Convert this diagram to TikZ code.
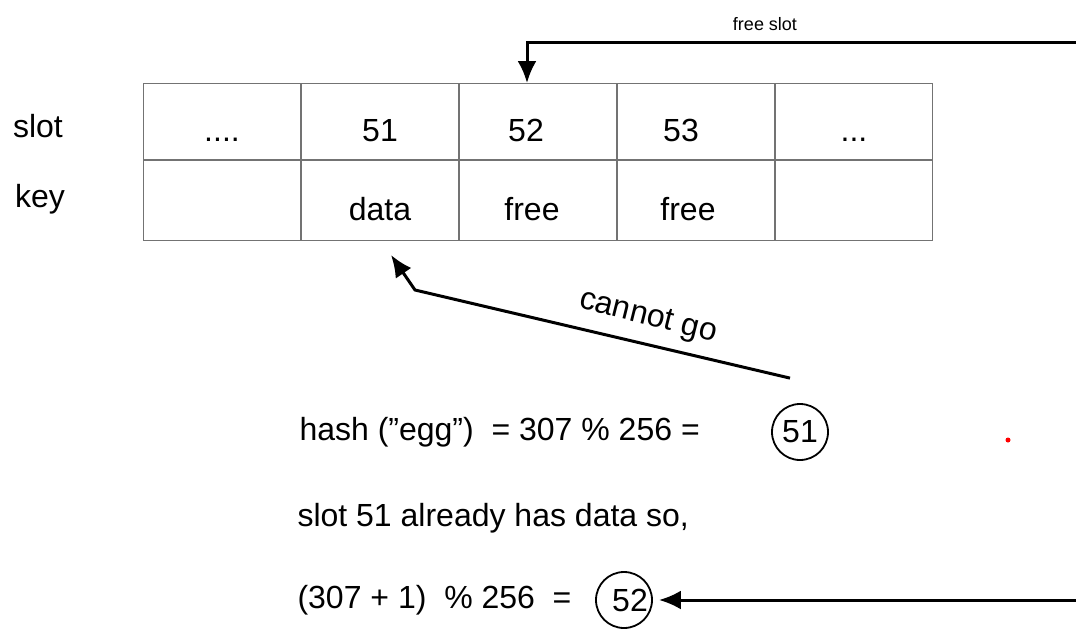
\documentclass[tikz,border=0pt]{standalone}
\usepackage{fontspec}
\setmainfont{Liberation Sans}
\usetikzlibrary{positioning, arrows.meta}

\begin{document}
\begin{tikzpicture}[x=1pt, y=-1pt, font=\fontsize{32}{37}\selectfont]
    \tikzstyle{cell}=[rectangle, draw=black!55, line width=1.2pt, minimum width=156.8pt, inner sep=0pt, text height=40pt, text depth=0pt]
    \tikzstyle{slotcell}=[cell, minimum height=75.8pt]
    \tikzstyle{keycell}=[cell, minimum height=79.8pt]
    \tikzstyle{link}=[line width=3pt, -{Latex[length=22pt, width=19pt]}]
    \tikzstyle{ring}=[circle, draw, line width=1.8pt, inner sep=0pt, minimum size=56pt]
    \useasboundingbox (0,0) rectangle (1076,630);
    % table
    \node [slotcell, anchor=north west] (s1) at (143,83) {....};
    \node [slotcell, right=0pt of s1] (s2) {51};
    \node [slotcell, right=0pt of s2] (s3) {\hspace*{-24pt}52};
    \node [slotcell, right=0pt of s3] (s4) {\hspace*{-30pt}53};
    \node [slotcell, right=0pt of s4] (s5) {...};
    \node [keycell, below=0pt of s1] (k1) {};
    \node [keycell, below=0pt of s2] (k2) {data};
    \node [keycell, below=0pt of s3] (k3) {\hspace*{-12pt}free};
    \node [keycell, below=0pt of s4] (k4) {\hspace*{-16pt}free};
    \node [keycell, below=0pt of s5] (k5) {};
    \node (slot) at (38,126) {slot};
    \node (key) at (40,199) {key};
    % hashing
    \node [anchor=west] (hash) at (296,432) {hash (”egg”) \ = 307 \% 256 =};
    \node [ring] (h51) at (800,432) {51};
    \node [anchor=west] (taken) at (294,518) {slot 51 already has data so,};
    \node [anchor=west] (probe) at (294,600) {(307 + 1) \ \% 256 \ = };
    \node [ring] (h52) at (624,600) {\hspace*{12pt}52};
    % arrows
    \coordinate (top) at (1076,42);
    \coordinate (bottom) at (1076,600);
    \coordinate (bend) at (415,290);
    \draw [link] (top) -| ([xshift=-11pt]s3.north);
    \node [font=\fontsize{18}{21}\selectfont] (free) at (765,24) {free slot};
    \draw [link] ([xshift=-10pt, yshift=25pt]h51.north) -- (bend) -- (391,255);
    \node [rotate=-14] (cannot) at (648,318) {cannot go};
    \draw [link] (bottom) -- ([xshift=6pt]h52.east);
    \fill [red] (1008,440) circle (2.5);
\end{tikzpicture}
\end{document}
